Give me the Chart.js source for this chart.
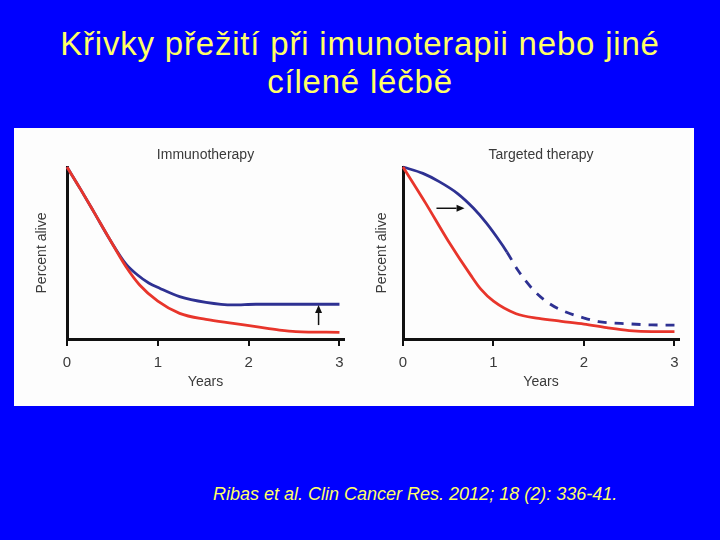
<!DOCTYPE html>
<html>
<head>
<meta charset="utf-8">
<script src="https://cdn.jsdelivr.net/npm/chart.js@4.4.1/dist/chart.umd.min.js"></script>
<style>
body{margin:0;width:720px;height:540px;background:#0000ff;overflow:hidden;position:relative;font-family:"Liberation Sans",Arial,sans-serif}
#title{position:absolute;left:0;top:25px;width:720px;text-align:center;color:#ffff66;font-size:33px;line-height:38px;letter-spacing:0.8px}
#panel{position:absolute;left:14px;top:128px;width:680px;height:278px;background:#fdfdfd}
#panel canvas{position:absolute;top:0}
#cite{position:absolute;left:213px;top:484px;color:#ffff66;font-style:italic;font-size:18px}
</style>
</head>
<body>
<div id="title">Křivky přežití při imunoterapii nebo jiné<br>cílené léčbě</div>
<div id="panel">
  <canvas id="immuno" width="340" height="278" style="left:0"></canvas>
  <canvas id="targeted" width="340" height="278" style="left:340px"></canvas>
</div>
<div id="cite">Ribas et al. Clin Cancer Res. 2012; 18 (2): 336-41.</div>
<script>
var xTicks = [0, 1, 2, 3];

// immunotherapy panel
var immunoBlueYears = [0, 0.15, 0.3, 0.47, 0.65, 0.77, 0.9, 1.02, 1.24, 1.53, 1.83, 2.08, 2.5, 3];
var immunoBlue = [100, 87, 73.5, 58, 43.5, 37.5, 32.6, 29.5, 24.6, 21.3, 19.8, 20.2, 20.2, 20.2];
var immunoRedYears = [0, 0.15, 0.3, 0.47, 0.65, 0.8, 1.0, 1.24, 1.53, 1.83, 2.08, 2.34, 2.52, 3];
var immunoRed = [100, 87, 73.5, 58, 42, 31.4, 22, 14.9, 11.4, 9.1, 7.2, 5.2, 4.3, 3.9];
var immunoArrow = [2.77, 8.1, 2.77, 19.8]; // x1,y1 -> x2,y2

// targeted therapy panel
var targetedBlueYears = [0, 0.22, 0.4, 0.6, 0.78, 0.92, 1.04, 1.15, 1.27, 1.45, 1.62, 1.79, 2.0, 2.16, 2.5, 2.75, 3];
var targetedBlue = [100, 96.3, 91.5, 84.7, 76, 67.5, 59, 50.5, 40, 28, 20.5, 15.9, 12.2, 10.1, 8.8, 8.2, 8.1];
var targetedRedYears = [0, 0.25, 0.5, 0.75, 0.86, 1, 1.25, 1.5, 1.75, 2, 2.25, 2.5, 2.75, 3];
var targetedRed = [100, 79, 57, 37, 29, 22, 14.7, 12, 10.3, 8.7, 6.6, 4.9, 4.3, 4.3];
var dashFrom = 1.15;
var targetedArrow = [0.37, 76, 0.68, 76];

var blue = '#2e3192';
var red = '#e8352b';
var txt = '#3a3a3a';

function pts(xs, ys) {
  return xs.map(function (v, i) { return {x: v, y: ys[i]}; });
}

var arrowPlugin = {
  id: 'arrow',
  afterDatasetsDraw: function (chart, args, opts) {
    var a = opts.coords;
    if (!a) return;
    var ctx = chart.ctx;
    var x1 = chart.scales.x.getPixelForValue(a[0]);
    var y1 = chart.scales.y.getPixelForValue(a[1]);
    var x2 = chart.scales.x.getPixelForValue(a[2]);
    var y2 = chart.scales.y.getPixelForValue(a[3]);
    var ang = Math.atan2(y2 - y1, x2 - x1);
    var hl = 8, hw = 3.5;
    ctx.save();
    ctx.strokeStyle = '#111';
    ctx.fillStyle = '#111';
    ctx.lineWidth = 1.5;
    ctx.beginPath();
    ctx.moveTo(x1, y1);
    ctx.lineTo(x2 - Math.cos(ang) * hl, y2 - Math.sin(ang) * hl);
    ctx.stroke();
    ctx.beginPath();
    ctx.moveTo(x2, y2);
    ctx.lineTo(x2 - Math.cos(ang) * hl - Math.sin(ang) * hw, y2 - Math.sin(ang) * hl + Math.cos(ang) * hw);
    ctx.lineTo(x2 - Math.cos(ang) * hl + Math.sin(ang) * hw, y2 - Math.sin(ang) * hl - Math.cos(ang) * hw);
    ctx.closePath();
    ctx.fill();
    ctx.restore();
  }
};

function makeChart(id, title, datasets, arrow, yWidth, padRight) {
  var ctx = document.getElementById(id).getContext('2d');
  return new Chart(ctx, {
    type: 'line',
    data: {datasets: datasets},
    plugins: [arrowPlugin],
    options: {
      responsive: false,
      animation: false,
      events: [],
      layout: {padding: {left: 0, right: padRight, top: 0, bottom: 0}},
      elements: {point: {radius: 0}, line: {borderWidth: 2.8, cubicInterpolationMode: 'monotone'}},
      plugins: {
        legend: {display: false},
        tooltip: {enabled: false},
        title: {
          display: true,
          text: title,
          fullSize: false,
          color: txt,
          font: {family: '"Liberation Sans", Arial, sans-serif', size: 14, weight: 'normal'},
          padding: {top: 18.6, bottom: 3.6}
        },
        arrow: {coords: arrow}
      },
      scales: {
        x: {
          type: 'linear',
          min: 0,
          max: 3.05,
          afterBuildTicks: function (s) { s.ticks = xTicks.map(function (v) { return {value: v}; }); },
          afterFit: function (s) { s.height = 67; },
          border: {display: true, color: '#111', width: 3},
          grid: {display: true, drawOnChartArea: false, drawTicks: true, tickLength: 7, color: '#111', lineWidth: 2},
          ticks: {color: txt, padding: 8, font: {family: '"Liberation Sans", Arial, sans-serif', size: 15}, maxRotation: 0},
          title: {display: true, text: 'Years', color: txt, padding: {top: 0, bottom: 15.6},
            font: {family: '"Liberation Sans", Arial, sans-serif', size: 14}}
        },
        y: {
          min: 0,
          max: 100,
          afterFit: function (s) { s.width = yWidth; },
          border: {display: true, color: '#111', width: 3},
          grid: {display: false},
          ticks: {display: false},
          title: {display: true, text: 'Percent alive', color: txt, padding: {top: 19.6, bottom: 0},
            font: {family: '"Liberation Sans", Arial, sans-serif', size: 14}}
        }
      }
    }
  });
}

makeChart('immuno', 'Immunotherapy', [
  {data: pts(immunoRedYears, immunoRed), borderColor: red, clip: 6},
  {data: pts(immunoBlueYears, immunoBlue), borderColor: blue, clip: 6}
], immunoArrow, 53, 10);

makeChart('targeted', 'Targeted therapy', [
  {data: pts(targetedRedYears, targetedRed), borderColor: red, clip: 6},
  {data: pts(targetedBlueYears, targetedBlue), borderColor: blue, clip: 6,
    segment: {borderDash: function (c) { return c.p0.parsed.x >= dashFrom ? [9, 8] : undefined; }}}
], targetedArrow, 49, 15);
</script>
</body>
</html>
